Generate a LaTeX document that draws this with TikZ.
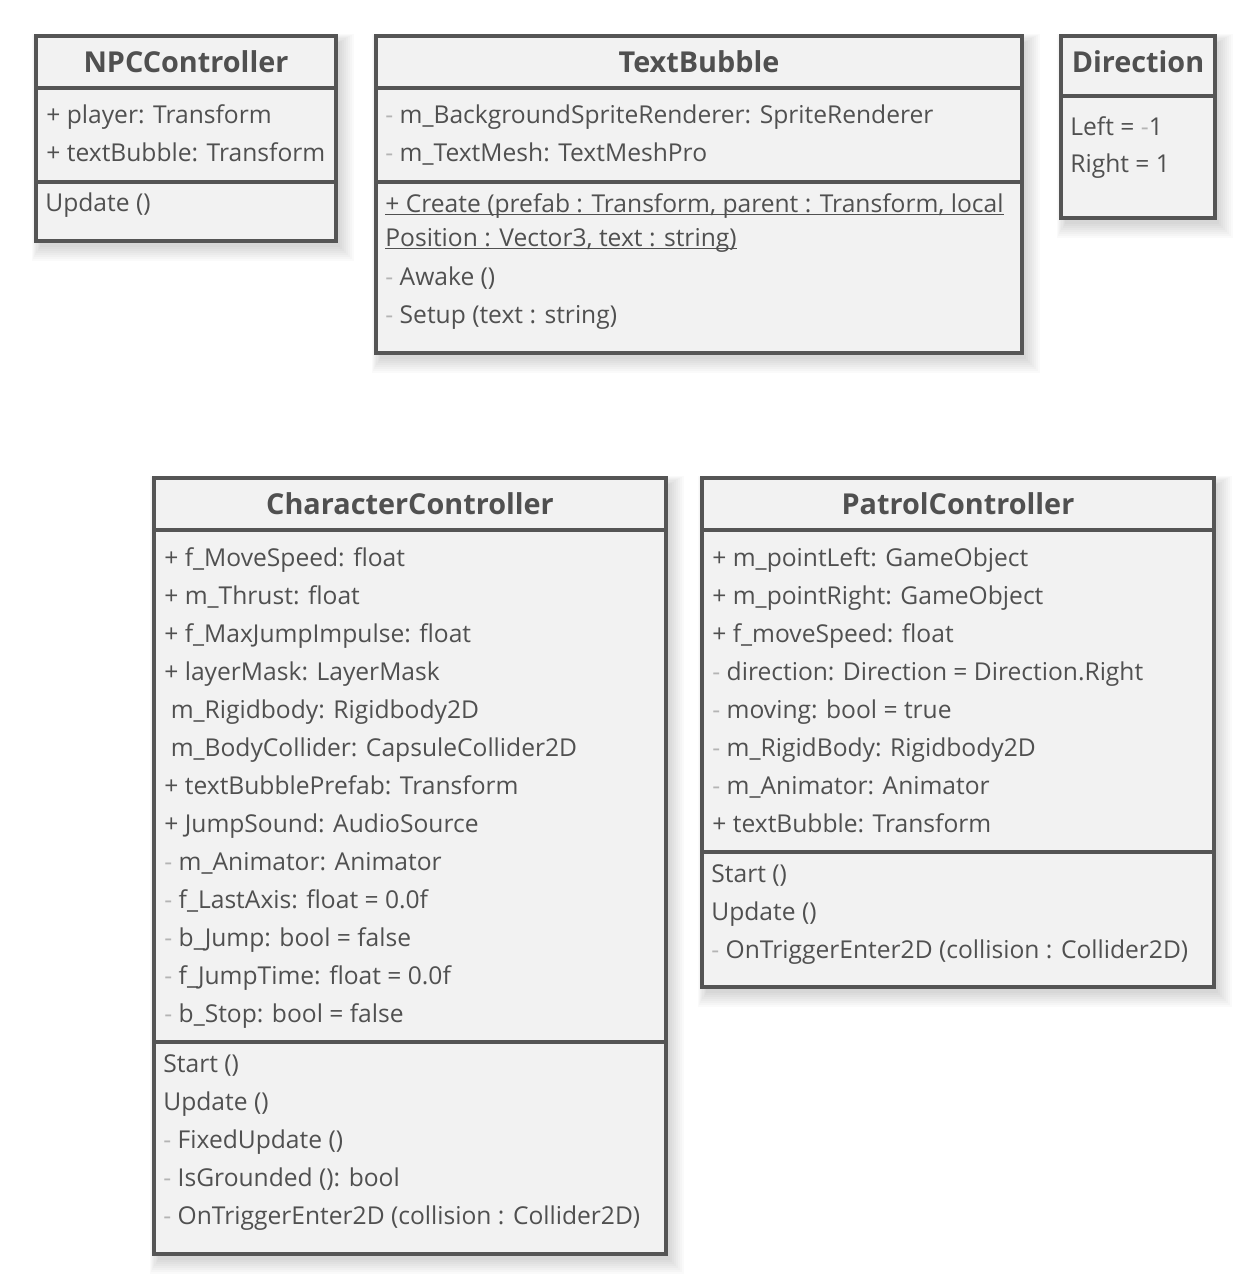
\documentclass[tikz,border=0pt]{standalone}
\usepackage{fontspec}
\setmainfont{Open Sans}
\usetikzlibrary{fit}
\definecolor{umlline}{HTML}{555555}
\definecolor{umlfill}{HTML}{F2F2F2}
\definecolor{umltext}{HTML}{505050}
\definecolor{umlpriv}{HTML}{B4B4B4}
\newcommand{\priv}{\textcolor{umlpriv}{-}\ }
\newcommand{\ulstatic}[1]{\setbox0\hbox{#1}\rlap{\rule[-1.6pt]{\wd0}{0.6pt}}\box0}

\begin{document}
\begin{tikzpicture}[x=0.5pt,y=-0.5pt,
    classbox/.style={draw=umlline,fill=umlfill,line width=2pt,inner sep=0pt},
    sepline/.style={draw=umlline,line width=2pt},
    classname/.style={anchor=base,inner sep=0pt,text=umltext,font=\bfseries\fontsize{14.4}{16}\selectfont},
    member/.style={anchor=base west,inner sep=0pt,text=umltext,font=\fontsize{12.3}{14}\selectfont}]
	\fill[white] (0,0) rectangle (1234,1274);
	\useasboundingbox (0,0) rectangle (1234,1274);
	% soft shadows
	\foreach \l/\t/\r/\b in {36/36/336/241,376/36/1022/353,1061/36/1215/218,154/478/666/1254,702/478/1214/987}
		\foreach \g in {0,2,...,14}
			\fill[black,opacity=0.018] (\l+4-0.6*\g,\t+6-0.6*\g) rectangle (\r+4+\g,\b+6+\g);
	% boxes
	\node[classbox,fit={(36,36) (336,241)}] (npc) {};
	\node[classbox,fit={(376,36) (1022,353)}] (bubble) {};
	\node[classbox,fit={(1061,36) (1215,218)}] (dir) {};
	\node[classbox,fit={(154,478) (666,1254)}] (chara) {};
	\node[classbox,fit={(702,478) (1214,987)}] (patrol) {};
	\draw[sepline] (36,88) -- (336,88) (36,182) -- (336,182);
	\draw[sepline] (376,88) -- (1022,88) (376,182) -- (1022,182);
	\draw[sepline] (1061,96) -- (1215,96);
	\draw[sepline] (154,530) -- (666,530) (154,1042) -- (666,1042);
	\draw[sepline] (702,530) -- (1214,530) (702,852) -- (1214,852);
	% names
	\node[classname] (npc-name) at (186,72) {NPCController};
	\node[classname] (bubble-name) at (699,72) {TextBubble};
	\node[classname] (dir-name) at (1138,72) {Direction};
	\node[classname] (chara-name) at (410,514) {CharacterController};
	\node[classname] (patrol-name) at (958,514) {PatrolController};
	% NPCController
	\foreach \t [count=\i] in {+ player: Transform,+ textBubble: Transform}
		\node[member] (npc-a\i) at (46,123+38*\i-38) {\t};
	\node[member] (npc-o1) at (45,211) {Update ()};
	% TextBubble
	\foreach \t [count=\i] in {\priv m\_BackgroundSpriteRenderer: SpriteRenderer,\priv m\_TextMesh: TextMeshPro}
		\node[member] (bubble-a\i) at (385,123+38*\i-38) {\t};
	\foreach \t/\y [count=\i] in {{\ulstatic{+ Create (prefab : Transform, parent : Transform, local}}/212,
			{\ulstatic{Position : Vector3, text : string)}}/246,\priv Awake ()/285,\priv Setup (text : string)/323}
		\node[member] (bubble-o\i) at (385,\y) {\t};
	% Direction
	\foreach \t [count=\i] in {Left = \textcolor{umlpriv}{-}1,Right = 1}
		\node[member] (dir-v\i) at (1070,135+37*\i-37) {\t};
	% CharacterController
	\foreach \t [count=\i] in {+ f\_MoveSpeed: float,+ m\_Thrust: float,+ f\_MaxJumpImpulse: float,
			+ layerMask: LayerMask,\ m\_Rigidbody: Rigidbody2D,\ m\_BodyCollider: CapsuleCollider2D,
			+ textBubblePrefab: Transform,+ JumpSound: AudioSource,\priv m\_Animator: Animator,
			\priv f\_LastAxis: float = 0.0f,\priv b\_Jump: bool = false,\priv f\_JumpTime: float = 0.0f,
			\priv b\_Stop: bool = false}
		\node[member] (chara-a\i) at (164,566+38*\i-38) {\t};
	\foreach \t [count=\i] in {Start (),Update (),\priv FixedUpdate (),\priv IsGrounded (): bool,
			\priv OnTriggerEnter2D (collision : Collider2D)}
		\node[member] (chara-o\i) at (163,1072+38*\i-38) {\t};
	% PatrolController
	\foreach \t [count=\i] in {+ m\_pointLeft: GameObject,+ m\_pointRight: GameObject,+ f\_moveSpeed: float,
			\priv direction: Direction = Direction.Right,\priv moving: bool = true,
			\priv m\_RigidBody: Rigidbody2D,\priv m\_Animator: Animator,+ textBubble: Transform}
		\node[member] (patrol-a\i) at (712,566+38*\i-38) {\t};
	\foreach \t [count=\i] in {Start (),Update (),\priv OnTriggerEnter2D (collision : Collider2D)}
		\node[member] (patrol-o\i) at (711,882+38*\i-38) {\t};
\end{tikzpicture}
\end{document}
